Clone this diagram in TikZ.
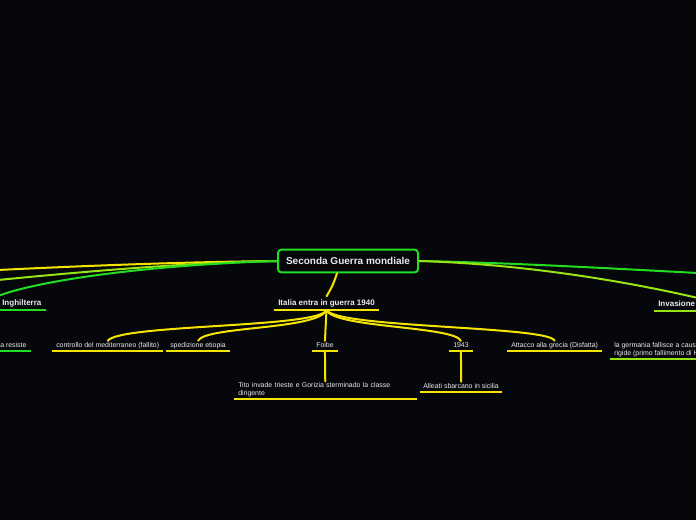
\documentclass[tikz,border=0pt]{standalone}
\usepackage{fontspec}
\setmainfont{Liberation Sans}
\usepackage{xcolor}
\definecolor{bgcol}{RGB}{5,7,10}
\definecolor{txtcol}{RGB}{235,235,235}
\definecolor{mmYellow}{RGB}{245,228,0}
\definecolor{mmLime}{RGB}{150,228,20}
\definecolor{mmGreen}{RGB}{34,221,34}

\begin{document}
\begin{tikzpicture}[x=0.75pt,y=0.75pt,yscale=-1,xscale=1,
  sub/.style={font=\fontsize{5.2}{6}\selectfont, text=txtcol, inner xsep=3pt, inner ysep=1pt, text depth=1.5pt, anchor=south west},
  main/.style={sub, font=\fontsize{6}{7}\selectfont\bfseries, inner ysep=2pt},
  root/.style={draw=mmGreen, line width=1.5pt, fill=bgcol, rounded corners=2.5pt, minimum width=105pt, minimum height=17pt, font=\fontsize{7.5}{9}\selectfont\bfseries, text=txtcol},
  link/.style={line width=1.5pt, line cap=round}
]
%Background
\fill [bgcol] (0,0) rectangle (696,520);
\useasboundingbox (0,0) rectangle (696,520);

% Text Node
\node [root] (root) at (348,261) {Seconda Guerra mondiale};
% Text Node
\node [main] (ingh) at (-2,310) {Inghilterra};
% Text Node
\node [sub] (resiste) at (-4,351) {a resiste};
% Text Node
\node [main] (ital) at (274,310) {Italia entra in guerra 1940};
% Text Node
\node [sub] (ctrl) at (52,351) {controllo del mediterraneo (fallito)};
% Text Node
\node [sub] (sped) at (166,351) {spedizione etiopia};
% Text Node
\node [sub] (foibe) at (312,351) {Foibe};
% Text Node
\node [sub] (y43) at (449,351) {1943};
% Text Node
\node [sub] (grecia) at (507,351) {Attacco alla grecia (Disfatta)};
% Text Node
\node [sub, text width=130.5pt, align=left, text depth={}, inner ysep=1pt] (tito) at (234,399) {Tito invade trieste e Gorizia sterminado la classe\\dirigente\rule[-1pt]{0pt}{0pt}};
% Text Node
\node [sub, inner xsep=2.25pt] (alleati) at (420,392) {Alleati sbarcano in sicilia};
% Text Node
\node [main] (inv) at (654,311) {Invasione};
% Text Node
\node [sub, align=left] (germ) at (610,359) {la germania fallisce a causa\\rigide (primo fallimento di H};

%Free ends at the border
\coordinate (lA) at (-2,270);
\coordinate (lB) at (-2,280);
\coordinate (lC) at (-2,296);
\coordinate (rA) at (698,273);
\coordinate (rB) at (698,298);

%Straight Lines
\draw [link, mmYellow] (root.west) .. controls (180,262) and (80,266) .. (lA);
\draw [link, mmLime] (root.west) .. controls (180,263) and (80,272) .. (lB);
\draw [link, mmGreen] (root.west) .. controls (150,265) and (40,280) .. (lC);
\draw [link, mmGreen] (root.east) .. controls (520,263) and (620,269) .. (rA);
\draw [link, mmLime] (root.east) .. controls (520,264) and (620,280) .. (rB);
\draw [link, mmYellow] ([xshift=-8.25pt]root.south) .. controls (333,285) .. (ital.north);

\draw [link, mmYellow] (ital.south) .. controls (320,328) and (120,324) .. (ctrl.north);
\draw [link, mmYellow] (ital.south) .. controls (318,330) and (205,326) .. (sped.north);
\draw [link, mmYellow] (ital.south) -- (foibe.north);
\draw [link, mmYellow] (ital.south) .. controls (334,328) and (455,326) .. (y43.north);
\draw [link, mmYellow] (ital.south) .. controls (336,328) and (550,326) .. (grecia.north);
\draw [link, mmYellow] (foibe.south) -- (tito.north);
\draw [link, mmYellow] (y43.south) -- (alleati.north);

%Underlines
\foreach \n in {ital,ctrl,sped,foibe,y43,grecia,tito,alleati}
  \draw [link, mmYellow, line cap=butt] (\n.south west) -- (\n.south east);
\foreach \n in {ingh,resiste}
  \draw [link, mmGreen, line cap=butt] (\n.south west) -- (\n.south east);
\draw [link, mmLime, line cap=butt] (inv.south west) -- (inv.south east);
\draw [link, mmLime, line cap=butt] (germ.south west) -- (germ.south east);
\end{tikzpicture}
\end{document}
